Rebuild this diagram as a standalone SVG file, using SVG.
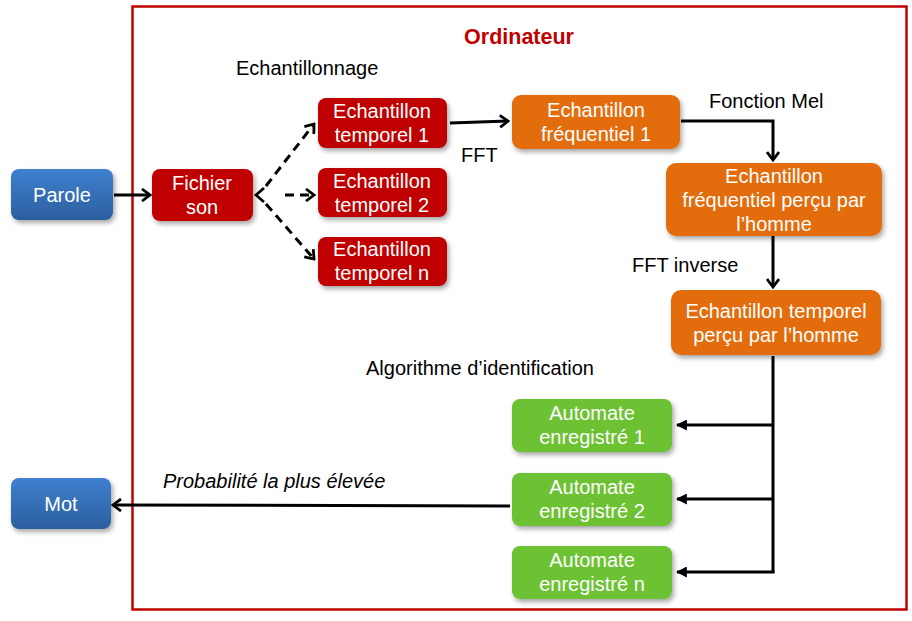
<svg xmlns="http://www.w3.org/2000/svg" width="912" height="621" viewBox="0 0 912 621">
  <defs>
    <linearGradient id="blueGrad" x1="0" y1="0" x2="0" y2="1">
      <stop offset="0" stop-color="#3f80cf"/>
      <stop offset="1" stop-color="#2b5f9f"/>
    </linearGradient>
    <filter id="shadow" x="-20%" y="-20%" width="140%" height="150%">
      <feDropShadow dx="2" dy="3" stdDeviation="2.5" flood-color="#000" flood-opacity="0.35"/>
    </filter>
    <marker id="arrow" viewBox="0 0 12 14" refX="10" refY="7" markerWidth="12" markerHeight="14" markerUnits="userSpaceOnUse" orient="auto">
      <path d="M2,1 L10,7 L2,13" fill="none" stroke="#000" stroke-width="2.8" stroke-linejoin="miter"/>
    </marker>
    <marker id="arrowFill" viewBox="0 0 10 10" refX="9" refY="5" markerWidth="11" markerHeight="11" markerUnits="userSpaceOnUse" orient="auto">
      <path d="M0,0 L10,5 L0,10 Z" fill="#000"/>
    </marker>
  </defs>
  <style>
    .box { filter: url(#shadow); }
    .red { fill: #c00000; }
    .orange { fill: #e36c0a; }
    .green { fill: #6cc232; }
    .blue { fill: url(#blueGrad); }
    .bt { font-family: "Liberation Sans", Arial, sans-serif; font-size: 20px; fill: #fff; text-anchor: middle; }
    .lbl { font-family: "Liberation Sans", Arial, sans-serif; font-size: 20px; fill: #000; }
    .conn { fill: none; stroke: #000; stroke-width: 3; }
    .dash { stroke-dasharray: 9 6; }
  </style>

  <rect width="912" height="621" fill="#fff"/>

  <!-- computer frame -->
  <g id="frame">
    <rect x="132.5" y="6.5" width="774" height="603" fill="none" stroke="#c00000" stroke-width="2.5"/>
    <text x="519" y="44" text-anchor="middle" font-family="'Liberation Sans', Arial, sans-serif" font-size="21.5" font-weight="bold" fill="#c00000">Ordinateur</text>
  </g>

  <!-- connectors -->
  <g id="connectors">
    <line class="conn" x1="114" y1="195" x2="150" y2="195" marker-end="url(#arrow)"/>
    <!-- sampling fan-out -->
    <path d="M264,188 L256,195 L264,202" fill="none" stroke="#000" stroke-width="2.8"/>
    <line class="conn dash" x1="266" y1="186" x2="314" y2="124" marker-end="url(#arrow)"/>
    <line class="conn dash" x1="285" y1="195" x2="314" y2="195" marker-end="url(#arrow)"/>
    <line class="conn dash" x1="266" y1="204" x2="314" y2="259" marker-end="url(#arrow)"/>
    <!-- FFT -->
    <line class="conn" x1="450" y1="123" x2="508" y2="121" marker-end="url(#arrow)"/>
    <!-- Mel -->
    <polyline class="conn" points="681,121 773,121 773,160" marker-end="url(#arrow)"/>
    <!-- inverse FFT -->
    <line class="conn" x1="773" y1="236" x2="773" y2="287" marker-end="url(#arrow)"/>
    <!-- identification bus -->
    <line class="conn" x1="773" y1="356" x2="773" y2="573"/>
    <line class="conn" x1="773" y1="425" x2="677" y2="425" marker-end="url(#arrowFill)"/>
    <line class="conn" x1="773" y1="499" x2="677" y2="499" marker-end="url(#arrowFill)"/>
    <line class="conn" x1="774.5" y1="572" x2="677" y2="572" marker-end="url(#arrowFill)"/>
    <!-- best match -->
    <line class="conn" x1="510" y1="506" x2="113" y2="505" marker-end="url(#arrow)"/>
  </g>

  <!-- nodes -->
  <g id="parole">
    <rect class="box blue" x="11" y="169" width="102" height="51" rx="8"/>
    <text class="bt" x="62" y="202">Parole</text>
  </g>
  <g id="mot">
    <rect class="box blue" x="11" y="478" width="100" height="51" rx="8"/>
    <text class="bt" x="61" y="511">Mot</text>
  </g>
  <g id="fichier-son">
    <rect class="box red" x="152" y="169" width="101" height="52" rx="8"/>
    <text class="bt" x="202" y="190">Fichier</text>
    <text class="bt" x="202" y="214">son</text>
  </g>
  <g id="temporel-1">
    <rect class="box red" x="318" y="98" width="129" height="50" rx="8"/>
    <text class="bt" x="382" y="118">Echantillon</text>
    <text class="bt" x="382" y="142">temporel 1</text>
  </g>
  <g id="temporel-2">
    <rect class="box red" x="318" y="168" width="129" height="49" rx="8"/>
    <text class="bt" x="382" y="188">Echantillon</text>
    <text class="bt" x="382" y="212">temporel 2</text>
  </g>
  <g id="temporel-n">
    <rect class="box red" x="318" y="237" width="129" height="49" rx="8"/>
    <text class="bt" x="382" y="256">Echantillon</text>
    <text class="bt" x="382" y="280">temporel n</text>
  </g>
  <g id="frequentiel-1">
    <rect class="box orange" x="512" y="95" width="168" height="54" rx="9"/>
    <text class="bt" x="596" y="117">Echantillon</text>
    <text class="bt" x="596" y="141">fréquentiel 1</text>
  </g>
  <g id="frequentiel-percu">
    <rect class="box orange" x="666" y="163" width="216" height="73" rx="10"/>
    <text class="bt" x="774" y="183">Echantillon</text>
    <text class="bt" x="774" y="207">fréquentiel perçu par</text>
    <text class="bt" x="774" y="231">l’homme</text>
  </g>
  <g id="temporel-percu">
    <rect class="box orange" x="671" y="290" width="210" height="65" rx="10"/>
    <text class="bt" x="776" y="318">Echantillon temporel</text>
    <text class="bt" x="776" y="342">perçu par l’homme</text>
  </g>
  <g id="automate-1">
    <rect class="box green" x="512" y="399" width="160" height="53" rx="8"/>
    <text class="bt" x="592" y="420">Automate</text>
    <text class="bt" x="592" y="444">enregistré 1</text>
  </g>
  <g id="automate-2">
    <rect class="box green" x="512" y="473" width="160" height="53" rx="8"/>
    <text class="bt" x="592" y="494">Automate</text>
    <text class="bt" x="592" y="518">enregistré 2</text>
  </g>
  <g id="automate-n">
    <rect class="box green" x="512" y="546" width="160" height="53" rx="8"/>
    <text class="bt" x="592" y="567">Automate</text>
    <text class="bt" x="592" y="591">enregistré n</text>
  </g>

  <!-- labels -->
  <g id="labels">
    <text class="lbl" x="236" y="75">Echantillonnage</text>
    <text class="lbl" x="461" y="162">FFT</text>
    <text class="lbl" x="709" y="108">Fonction Mel</text>
    <text class="lbl" x="632" y="272">FFT inverse</text>
    <text class="lbl" x="366" y="375" font-size="21">Algorithme d’identification</text>
    <text class="lbl" x="163" y="488" font-size="22" font-style="italic">Probabilité la plus élevée</text>
  </g>
</svg>
